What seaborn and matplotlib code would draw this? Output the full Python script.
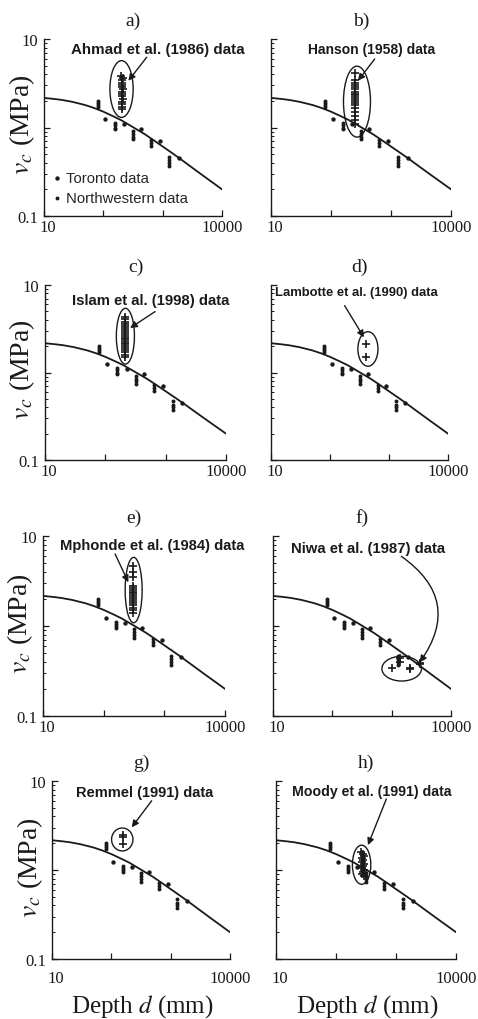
import numpy as np
import pandas as pd
import matplotlib
matplotlib.use('Agg')
import matplotlib.pyplot as plt
from matplotlib.patches import Ellipse
from matplotlib.transforms import ScaledTranslation
from matplotlib.ticker import LogLocator, NullFormatter, FixedLocator, FixedFormatter
import seaborn as sns

# ---------------- data ----------------
curve_d = [10, 15, 20, 30, 50, 70, 100, 150, 200, 300, 500, 700, 1000, 1500, 2000, 3000, 5000, 7000, 10000]
curve_v = [2.16, 2.10, 2.05, 1.95, 1.79, 1.66, 1.51, 1.33, 1.21, 1.03, 0.84, 0.72, 0.61, 0.505, 0.44, 0.36, 0.28, 0.238, 0.20]

toronto_d = [108, 225, 435, 900, 1900]
toronto_v = [1.24, 1.09, 0.96, 0.70, 0.45]

nw_d = [80, 80, 80, 80, 157, 157, 157, 157, 320, 320, 320, 320, 640, 640, 640, 1300, 1300, 1300, 1300]
nw_v = [2.0, 1.9, 1.8, 1.7, 1.12, 1.06, 1.0, 0.96, 0.92, 0.85, 0.79, 0.74, 0.72, 0.66, 0.61, 0.47, 0.43, 0.40, 0.37]

ahmad_d = [200, 215, 205, 210, 205, 208, 212, 206, 210, 205, 212, 208, 210, 206, 205]
ahmad_v = [3.85, 3.6, 3.4, 3.2, 3.0, 2.85, 2.7, 2.55, 2.4, 2.25, 2.1, 1.95, 1.85, 1.72, 1.6]

hanson_d = [250] * 19
hanson_v = [4.1, 3.4, 3.2, 3.0, 2.85, 2.7, 2.55, 2.4, 2.3, 2.2, 2.1, 2.0, 1.9, 1.8, 1.65, 1.5, 1.35, 1.2, 1.1]

islam_d = [215] * 21
islam_v = [4.3, 4.05, 3.8, 3.6, 3.4, 3.2, 3.05, 2.9, 2.75, 2.6, 2.5, 2.4, 2.3, 2.2, 2.1, 2.0, 1.9, 1.8, 1.7, 1.6, 1.5]

lambotte_d = [410, 410]
lambotte_v = [2.12, 1.52]

mphonde_d = [305] * 17
mphonde_v = [4.6, 4.0, 3.5, 2.8, 2.65, 2.5, 2.4, 2.3, 2.2, 2.1, 2.0, 1.9, 1.8, 1.7, 1.6, 1.5, 1.4]

niwa_d = [1000, 1400, 1400, 2000, 2000, 3000, 3000]
niwa_v = [0.34, 0.44, 0.40, 0.33, 0.34, 0.39, 0.38]

remmel_d = [160, 160, 160]
remmel_v = [2.5, 2.35, 1.95]

moody_d = [265, 280, 290, 270, 285, 275, 290, 280, 270, 295, 285, 275, 290]
moody_v = [1.6, 1.5, 1.42, 1.35, 1.28, 1.22, 1.16, 1.1, 1.05, 1.0, 0.95, 0.9, 0.85]

panel_letters = ['a)', 'b)', 'c)', 'd)', 'e)', 'f)', 'g)', 'h)']
panel_titles = ['Ahmad et al. (1986) data', 'Hanson (1958) data', 'Islam et al. (1998) data',
                'Lambotte et al. (1990) data', 'Mphonde et al. (1984) data', 'Niwa et al. (1987) data',
                'Remmel (1991) data', 'Moody et al. (1991) data']
highlight_d = [ahmad_d, hanson_d, islam_d, lambotte_d, mphonde_d, niwa_d, remmel_d, moody_d]
highlight_v = [ahmad_v, hanson_v, islam_v, lambotte_v, mphonde_v, niwa_v, remmel_v, moody_v]

x_ticks = [10, 100, 1000, 10000]
x_ticklabels = ['10', '', '', '10000']
y_ticks = [0.1, 1, 10]
y_ticklabels = ['0.1', '', '10']

# ---------------- layout (pixels / styles) ----------------
W, H = 478, 1020
boxes = [(44, 40, 222, 217), (271, 40, 451, 217),
         (45, 286, 226, 461), (271, 286, 448, 461),
         (43, 537, 225, 717), (273, 537, 451, 717),
         (52, 782, 230, 960), (276, 782, 456, 960)]
xpad = [2, 2, 2, 2, 2, 2, 8, 8]
title_size = [10.9, 10.0, 10.7, 9.4, 10.6, 10.7, 10.5, 10.2]
# text centre (axes fraction), arrow start, arrow tip, arc radius
annot = [((0.64, 0.944), (0.577, 0.897), (0.474, 0.764), 0.0),
         ((0.559, 0.944), (0.576, 0.887), (0.483, 0.764), 0.0),
         ((0.585, 0.915), (0.608, 0.848), (0.47, 0.754), 0.0),
         ((0.482, 0.958), (0.416, 0.882), (0.525, 0.701), 0.0),
         ((0.60, 0.95), (0.396, 0.90), (0.469, 0.743), 0.0),
         ((0.534, 0.933), (0.721, 0.887), (0.824, 0.298), -0.5),
         ((0.522, 0.941), (0.56, 0.889), (0.448, 0.74), 0.0),
         ((0.53, 0.945), (0.613, 0.899), (0.511, 0.64), 0.0)]
# ellipse padding in log10 units: left, right, bottom, top
ell_pad = [(0.19, 0.17, 0.09, 0.17), (0.19, 0.26, 0.15, 0.08), (0.15, 0.15, 0.08, 0.1),
           (0.14, 0.2, 0.11, 0.14), (0.13, 0.15, 0.11, 0.1), (0.165, 0.025, 0.13, 0.02),
           (0.2, 0.16, 0.076, 0.074), (0.15, 0.11, 0.09, 0.075)]

sns.set_theme(style='ticks')
plt.rcParams['font.family'] = ['Liberation Serif', 'DejaVu Serif']
plt.rcParams['mathtext.fontset'] = 'stix'
SANS = ['Liberation Sans', 'DejaVu Sans']

fig = plt.figure(figsize=(W / 100, H / 100), dpi=100)

for i in range(8):
    x0, y0, x1, y1 = boxes[i]
    ax = fig.add_axes([x0 / W, 1 - y1 / H, (x1 - x0) / W, (y1 - y0) / H])
    ax.set_xscale('log')
    ax.set_yscale('log')

    sns.lineplot(x=curve_d, y=curve_v, ax=ax, color='k', lw=1.3, errorbar=None)
    sns.scatterplot(x=toronto_d, y=toronto_v, ax=ax, color='k', s=10, marker='o',
                    linewidth=0, label='Toronto data')
    sns.scatterplot(x=nw_d, y=nw_v, ax=ax, color='k', s=8, marker='o',
                    linewidth=0, label='Northwestern data')
    sns.scatterplot(x=highlight_d[i], y=highlight_v[i], ax=ax, color='k', s=30, marker='+',
                    linewidth=1.2)

    ax.set_xlim(10, 10000)
    ax.set_ylim(0.1, 10)
    ax.xaxis.set_major_locator(FixedLocator(x_ticks))
    ax.xaxis.set_major_formatter(FixedFormatter(x_ticklabels))
    ax.xaxis.set_minor_locator(LogLocator(base=10, subs=np.arange(2, 10)))
    ax.xaxis.set_minor_formatter(NullFormatter())
    ax.yaxis.set_major_locator(FixedLocator(y_ticks))
    if i % 2 == 0:
        ax.yaxis.set_major_formatter(FixedFormatter(y_ticklabels))
    else:
        ax.yaxis.set_major_formatter(NullFormatter())
    ax.yaxis.set_minor_locator(LogLocator(base=10, subs=np.arange(2, 10)))
    ax.yaxis.set_minor_formatter(NullFormatter())
    ax.tick_params(which='major', direction='in', length=4, width=0.9, colors='k',
                   labelsize=12)
    ax.tick_params(axis='x', which='major', pad=xpad[i])
    ax.tick_params(axis='y', which='major', pad=4)
    ax.tick_params(which='minor', direction='in', length=2, width=0.7, colors='k')
    for s in ['top', 'right']:
        ax.spines[s].set_visible(False)
    for s in ['left', 'bottom']:
        ax.spines[s].set_color('k')
        ax.spines[s].set_linewidth(1.0)
    ax.set_xlabel('')
    ax.set_ylabel('')
    ax.grid(False)

    # nudge the "10" x label right so it clears the "0.1" y label
    fig.canvas.draw()
    xl = ax.get_xticklabels()
    xl[0].set_transform(xl[0].get_transform() + ScaledTranslation(4 / 100, 0, fig.dpi_scale_trans))

    if i == 0:
        ax.legend(loc='lower left', bbox_to_anchor=(0.0, 0.01), frameon=False,
                  prop={'family': SANS, 'size': 10.7}, handlelength=0.5,
                  handletextpad=0.35, labelspacing=0.45, borderaxespad=0.2)
    else:
        lg = ax.get_legend()
        if lg is not None:
            lg.remove()

    # ellipse round the highlighted data, in axes fraction
    lx = np.log10(highlight_d[i])
    ly = np.log10(highlight_v[i])
    pl, pr, pb, pt = ell_pad[i]
    xa = (lx.min() - pl - 1) / 3
    xb = (lx.max() + pr - 1) / 3
    ya = (ly.min() - pb + 1) / 2
    yb = (ly.max() + pt + 1) / 2
    ax.add_patch(Ellipse(((xa + xb) / 2, (ya + yb) / 2), xb - xa, yb - ya,
                         transform=ax.transAxes, fill=False, ec='k', lw=1.0))

    tpos, apos, tip, rad = annot[i]
    ax.text(tpos[0], tpos[1], panel_titles[i], transform=ax.transAxes, ha='center',
            va='center', fontsize=title_size[i], fontweight='bold', family=SANS, color='k')
    ax.annotate('', xy=tip, xycoords='axes fraction', xytext=apos,
                textcoords='axes fraction',
                arrowprops=dict(arrowstyle='-|>', color='k', lw=1.0, mutation_scale=10,
                                shrinkA=0, shrinkB=0,
                                connectionstyle='arc3,rad=%s' % rad))

    ax.text(0.5, 1.105, panel_letters[i], transform=ax.transAxes, ha='center',
            va='center', fontsize=14, color='k')
    if i % 2 == 0:
        ax.text(-0.125, 0.52, r'$v_c$ (MPa)', transform=ax.transAxes, rotation=90,
                ha='center', va='center', fontsize=20, color='k')
    if i >= 6:
        ax.text(0.505, -0.26, r'Depth $d$ (mm)', transform=ax.transAxes, ha='center',
                va='center', fontsize=18, color='k')

fig.savefig('out.png', dpi=100, facecolor='white')
